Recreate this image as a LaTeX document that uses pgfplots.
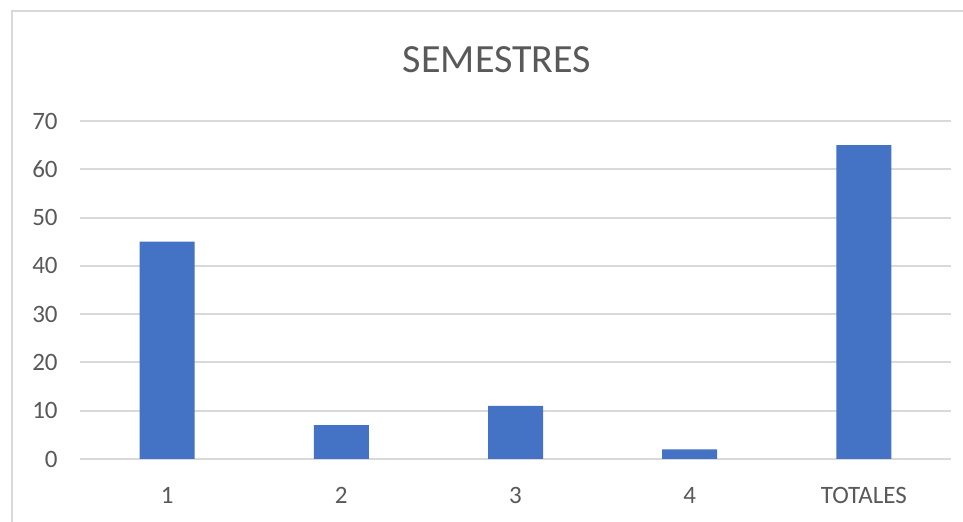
\documentclass[border=0pt]{standalone}
\usepackage{pgfplots}
\pgfplotsset{compat=1.18}
\usepackage{fontspec}
\setmainfont{Carlito}
\definecolor{barblue}{HTML}{4472C4}
\definecolor{txtgray}{HTML}{595959}
\definecolor{gridgray}{HTML}{D9D9D9}
\begin{document}
\begin{tikzpicture}
\useasboundingbox (0pt,0pt) rectangle (481.5pt,261pt);
\draw[gridgray, line width=1pt] (6pt,-5pt) -- (6pt,255.5pt) -- (490pt,255.5pt);
\node[txtgray, font=\fontsize{20pt}{24pt}\selectfont] at (248.5pt,231pt) {SEMESTRES};
\begin{axis}[
  at={(40pt,31.5pt)}, anchor=south west,
  scale only axis, width=435.5pt, height=169pt,
  xmin=-0.5, xmax=4.5, ymin=0, ymax=70,
  xtick={0,1,2,3,4},
  xticklabels={1,2,3,4,TOTALES},
  ytick={0,10,...,70},
  axis line style={draw=none},
  major tick length=0pt,
  ymajorgrids, grid style={gridgray, line width=1pt},
  tick label style={txtgray, font=\fontsize{12.5pt}{15pt}\selectfont},
  /pgf/number format/assume math mode=true,
  yticklabel style={anchor=east, inner sep=0pt, xshift=-11pt},
  xticklabel style={anchor=center, inner sep=0pt, yshift=-18pt},
  clip=false,
]
\addplot[ybar, bar width=27.5pt, fill=barblue, draw=none] coordinates {(0,45) (1,7) (2,11) (3,2) (4,65)};
\end{axis}
\end{tikzpicture}
\end{document}
